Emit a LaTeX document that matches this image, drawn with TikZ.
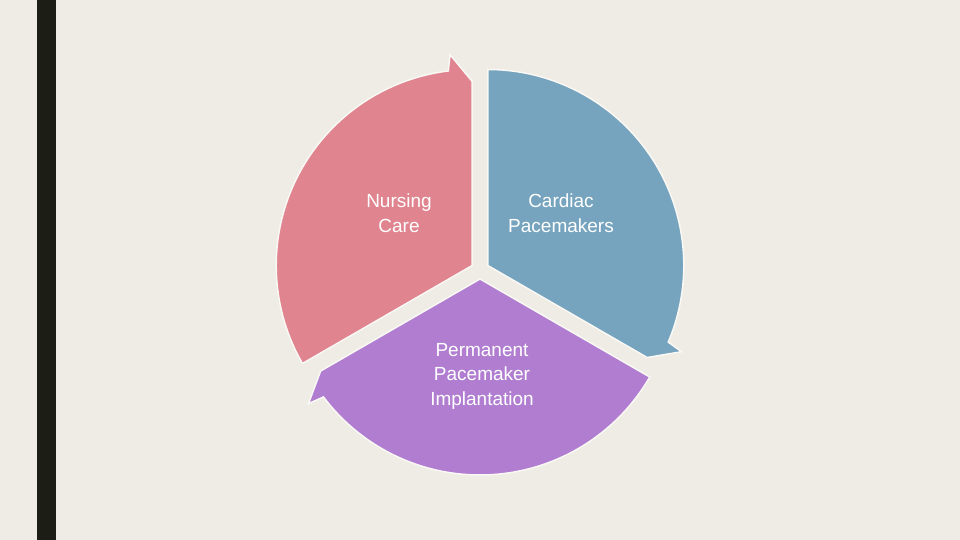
\documentclass[tikz,border=0pt]{standalone}
\usepackage{fontspec}
\setmainfont{Liberation Sans}
\definecolor{bg}{HTML}{EEECE5}
\definecolor{barc}{HTML}{1C1D14}
\definecolor{pinkc}{HTML}{E0848F}
\definecolor{bluec}{HTML}{76A4BE}
\definecolor{purplec}{HTML}{B07DD0}
\definecolor{edgec}{HTML}{F9F8F4}
\begin{document}
\begin{tikzpicture}[x=1pt,y=1pt,
  piece/.style={draw=edgec,line width=1.5pt,line join=miter},
  lbl/.style={text=white,font=\fontsize{19}{24.5}\selectfont,align=center}]
\useasboundingbox (0,0) rectangle (960,540);
\fill[bg] (0,0) rectangle (960,540);
\fill[barc] (37,0) rectangle (56,540);
\coordinate (O) at (480,270);
% pieces: math coords, y up; center O
\foreach \rot/\col in {0/pinkc,-120/bluec,-240/purplec}{
  \begin{scope}[shift={(O)},rotate=\rot,shift={(150:9)}]
    \fill[\col,piece] (0,0) -- (90:184) -- (96:212) -- (97:196) arc[start angle=97,end angle=210,radius=196] -- cycle;
  \end{scope}
}
\node[lbl] (nc) at (399,327) {Nursing\\Care};
\node[lbl] (cp) at (561,327) {Cardiac\\Pacemakers};
\node[lbl] (pp) at (482,164) {Permanent\\Pacemaker\\Implantation};
\end{tikzpicture}
\end{document}
